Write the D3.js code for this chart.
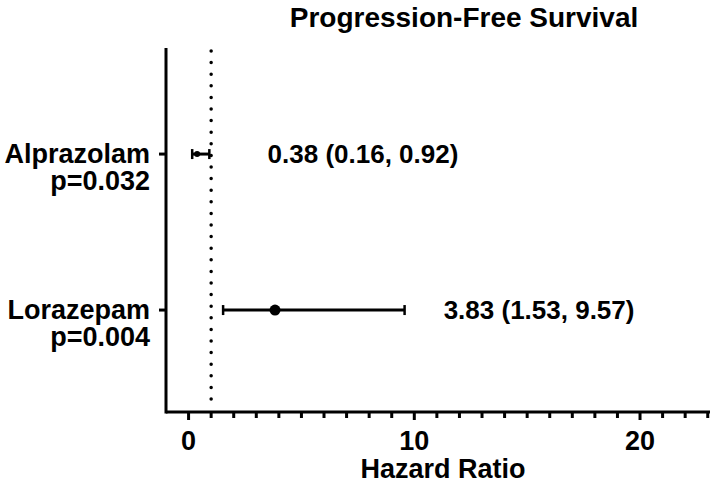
<!DOCTYPE html>
<html>
<head>
<meta charset="utf-8">
<title>Progression-Free Survival</title>
<style>
  body { margin: 0; background: #fff; }
  svg { display: block; }
  text { font-family: 'Liberation Sans', Arial, sans-serif; font-weight: bold; fill: #000; }
</style>
</head>
<body>
<div id="chart"></div>
<script src="https://d3js.org/d3.v7.min.js"></script>
<script>
// data
var drugs    = ["Alprazolam", "Lorazepam"];
var pvalues  = ["p=0.032", "p=0.004"];
var hr       = [0.38, 3.83];
var lower    = [0.16, 1.53];
var upper    = [0.92, 9.57];
var hrLabels = ["0.38 (0.16, 0.92)", "3.83 (1.53, 9.57)"];
var labelAt  = [3.5, 11.3];   // where the HR text starts, in hazard-ratio units
var xTicks   = [0, 10, 20];
var refLine  = 1;

var width = 710, height = 487;

var svg = d3.select("#chart").append("svg")
    .attr("width", width)
    .attr("height", height);

var x = d3.scaleLinear().domain([-1, 23.1]).range([166, 710]);
var y = d3.scaleLinear().domain([-0.68, 1.66]).range([48, 413]);

// title
svg.append("text")
    .attr("x", 464).attr("y", 27)
    .attr("text-anchor", "middle")
    .style("font-size", "28px")
    .text("Progression-Free Survival");

// x axis: minor ticks every 1, major every 10
var minor = d3.range(0, 24, 1).filter(function(d) { return xTicks.indexOf(d) < 0; });

var xAxisG = svg.append("g").attr("transform", "translate(0,412)");
xAxisG.append("line")
    .attr("x1", 166).attr("x2", 710)
    .attr("stroke", "#000").attr("stroke-width", 3);
xAxisG.selectAll(".minor").data(minor).enter().append("line")
    .attr("x1", x).attr("x2", x)
    .attr("y1", 0).attr("y2", 6)
    .attr("stroke", "#000").attr("stroke-width", 3);
xAxisG.selectAll(".major").data(xTicks).enter().append("line")
    .attr("x1", x).attr("x2", x)
    .attr("y1", 0).attr("y2", 8)
    .attr("stroke", "#000").attr("stroke-width", 3);
xAxisG.selectAll(".tl").data(xTicks).enter().append("text")
    .attr("x", x).attr("y", 38)
    .attr("text-anchor", "middle")
    .style("font-size", "27px")
    .text(function(d) { return d; });

svg.append("text")
    .attr("x", 443).attr("y", 478)
    .attr("text-anchor", "middle")
    .style("font-size", "27px")
    .text("Hazard Ratio");

// y axis
svg.append("line")
    .attr("x1", 166).attr("x2", 166)
    .attr("y1", 48).attr("y2", 413.5)
    .attr("stroke", "#000").attr("stroke-width", 3);

var rows = svg.selectAll(".row").data(drugs).enter().append("g")
    .attr("transform", function(d, i) { return "translate(0," + y(i) + ")"; });

rows.append("line")
    .attr("x1", 159).attr("x2", 166)
    .attr("stroke", "#000").attr("stroke-width", 3);

rows.append("text")
    .attr("x", 150).attr("y", 9)
    .attr("text-anchor", "end")
    .style("font-size", "27px")
    .text(function(d) { return d; });

rows.append("text")
    .attr("x", 150).attr("y", 36)
    .attr("text-anchor", "end")
    .style("font-size", "27px")
    .text(function(d, i) { return pvalues[i]; });

// reference line at HR = 1
svg.append("line")
    .attr("x1", x(refLine)).attr("x2", x(refLine))
    .attr("y1", 51).attr("y2", 410)
    .attr("stroke", "#000").attr("stroke-width", 3.5)
    .attr("stroke-linecap", "round")
    .attr("stroke-dasharray", "0,11.6");

// confidence intervals
rows.append("line")
    .attr("x1", function(d, i) { return x(lower[i]); })
    .attr("x2", function(d, i) { return x(upper[i]); })
    .attr("stroke", "#000").attr("stroke-width", 3);

rows.append("line")
    .attr("x1", function(d, i) { return x(lower[i]); })
    .attr("x2", function(d, i) { return x(lower[i]); })
    .attr("y1", -5).attr("y2", 5)
    .attr("stroke", "#000").attr("stroke-width", 2.5);

rows.append("line")
    .attr("x1", function(d, i) { return x(upper[i]); })
    .attr("x2", function(d, i) { return x(upper[i]); })
    .attr("y1", -5).attr("y2", 5)
    .attr("stroke", "#000").attr("stroke-width", 2.5);

rows.append("circle")
    .attr("cx", function(d, i) { return x(hr[i]); })
    .attr("r", function(d, i) { return i === 0 ? 3 : 5.5; })
    .attr("fill", "#000");

rows.append("text")
    .attr("x", function(d, i) { return x(labelAt[i]); })
    .attr("y", 9)
    .style("font-size", "26px")
    .text(function(d, i) { return hrLabels[i]; });
</script>
</body>
</html>
